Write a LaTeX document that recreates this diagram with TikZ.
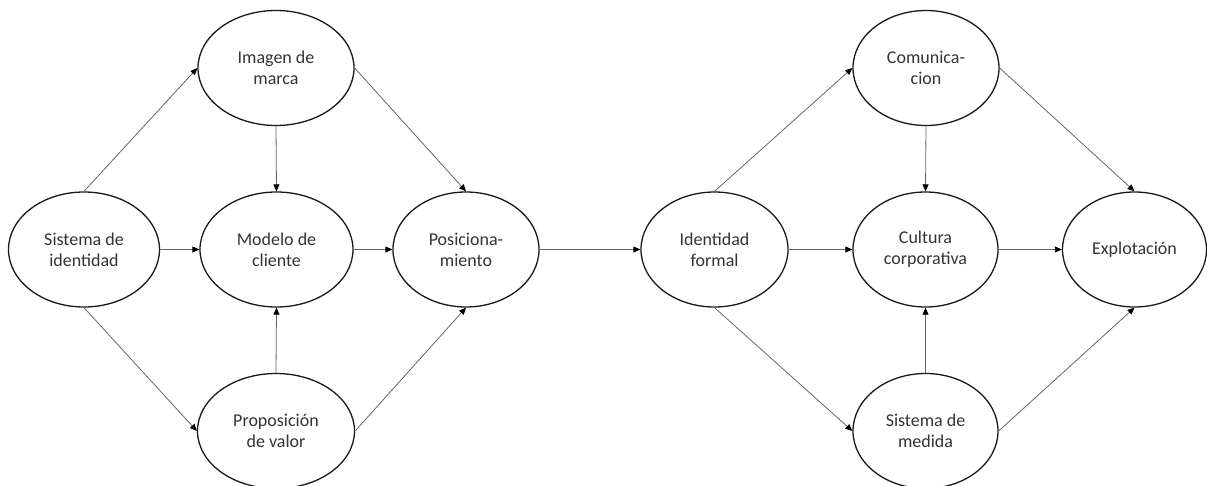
\documentclass[tikz,border=0pt]{standalone}
\usepackage{fontspec}
\setmainfont{Carlito}
\usetikzlibrary{shapes.geometric,arrows.meta}
\begin{document}
\begin{tikzpicture}[x=1pt,y=-1pt,
  ell/.style={draw=black!90, ellipse, line width=1.3pt, inner sep=0pt, align=center,
    minimum height=115pt, text=black!80, font=\fontsize{18}{21}\selectfont},
  conn/.style={draw=black!60, line width=0.8pt, -{Triangle[length=7pt,width=6pt,fill=black,color=black]}}]
\useasboundingbox (0,0) rectangle (1207,486);
\node[ell, minimum width=151pt] (si) at (84,249.5) {Sistema de\\identidad};
\node[ell, minimum width=153pt] (mc) at (276.5,249.5) {Modelo de\\cliente};
\node[ell, minimum width=146pt] (po) at (466,249.5) {Posiciona-\\miento};
\node[ell, minimum width=156pt] (im) at (276,68) {Imagen de\\marca};
\node[ell, minimum width=157pt] (pv) at (276,431) {Proposición\\de valor};
\node[ell, minimum width=147pt] (if) at (714.5,249.5) {Identidad\\formal};
\node[ell, minimum width=145pt] (cc) at (925.5,249.5) {Cultura\\corporativa};
\node[ell, minimum width=144pt] (ex) at (1134.5,249.5) {Explotación};
\node[ell, minimum width=146pt] (co) at (926,68) {Comunica-\\cion};
\node[ell, minimum width=145pt] (sm) at (925.5,431) {Sistema de\\medida};
\draw[conn] (si.north) -- (im.west);
\draw[conn] (si.south) -- (pv.west);
\draw[conn] (im.east) -- (po.north);
\draw[conn] (pv.east) -- (po.south);
\draw[conn] (im.south) -- (mc.north);
\draw[conn] (pv.north) -- (mc.south);
\draw[conn] (si.east) -- (mc.west);
\draw[conn] (mc.east) -- (po.west);
\draw[conn] (po.east) -- (if.west);
\draw[conn] (if.north) -- (co.west);
\draw[conn] (if.south) -- (sm.west);
\draw[conn] (co.east) -- (ex.north);
\draw[conn] (sm.east) -- (ex.south);
\draw[conn] (co.south) -- (cc.north);
\draw[conn] (sm.north) -- (cc.south);
\draw[conn] (if.east) -- (cc.west);
\draw[conn] (cc.east) -- (ex.west);
\end{tikzpicture}
\end{document}
